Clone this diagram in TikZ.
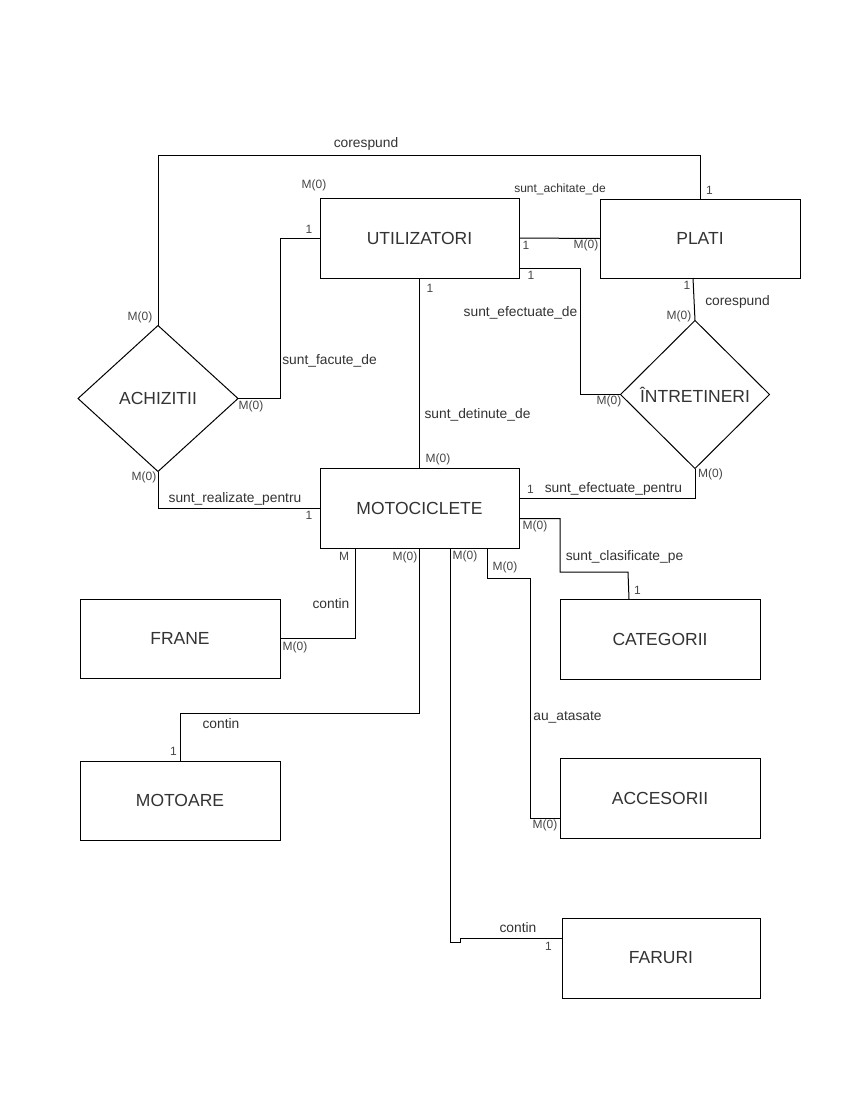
\documentclass[tikz,border=0pt]{standalone}
\usepackage{fontspec}
\setmainfont{Liberation Sans}
\usetikzlibrary{shapes.geometric}
\begin{document}
\begin{tikzpicture}[x=1pt,y=-1pt,
  ent/.style={draw=black, line width=1pt, rectangle, inner sep=0pt, outer sep=0pt,
    font=\fontsize{17.5}{20}\selectfont, text=black!80},
  rel/.style={draw=black, line width=1pt, diamond, inner sep=0pt, outer sep=0pt,
    font=\fontsize{17.5}{20}\selectfont, text=black!80},
  conn/.style={draw=black, line width=1pt},
  lab/.style={inner sep=0pt, font=\fontsize{13.8}{16}\selectfont, text=black!80},
  smalllab/.style={inner sep=0pt, font=\fontsize{12}{14}\selectfont, text=black!80},
  card/.style={inner sep=0pt, font=\fontsize{12}{14}\selectfont, text=black!72},
]
\fill[white] (0,0) rectangle (850,1100);
\useasboundingbox (0,0) rectangle (850,1100);

% entities
\node[ent, minimum width=199pt, minimum height=80pt] (util) at (419.5,238) {UTILIZATORI};
\node[ent, minimum width=200pt, minimum height=79pt] (plati) at (700,238.5) {PLATI};
\node[ent, minimum width=199pt, minimum height=80pt] (moto) at (419.5,508) {MOTOCICLETE};
\node[ent, minimum width=200pt, minimum height=79pt] (frane) at (180,638.5) {FRANE};
\node[ent, minimum width=200pt, minimum height=79pt] (motoare) at (180,800.5) {MOTOARE};
\node[ent, minimum width=200pt, minimum height=80pt] (categ) at (660,639) {CATEGORII};
\node[ent, minimum width=200pt, minimum height=80pt] (acces) at (660,798) {ACCESORII};
\node[ent, minimum width=198pt, minimum height=80pt] (faruri) at (661,958) {FARURI};

% relationships
\node[rel, minimum width=160pt, minimum height=146pt] (ach) at (158,398.5) {ACHIZITII};
\node[rel, minimum width=149pt, minimum height=148pt] (intr) at (695,394.5) {ÎNTRETINERI};

% helper coordinates
\coordinate (c1) at (158,155);
\coordinate (c2) at (280,238);
\coordinate (c4) at (580,394.5);
\coordinate (c12) at (530,578);
\coordinate (c13a) at (560,572);
\coordinate (c13b) at (628,572);

% connectors
\draw[conn] (ach.north) -- (c1) -| (plati.north);
\draw[conn] (ach.east) -| (c2) -- (util.west);
\draw[conn] (util.east) -- (plati.west);
\draw[conn] ([yshift=-30pt]util.east) -| (c4) -- (intr.west);
\draw[conn] ([xshift=-7pt]plati.south) -- (intr.north);
\draw[conn] (util.south) -- (moto.north);
\draw[conn] (intr.south) |- ([yshift=10pt]moto.east);
\draw[conn] (ach.south) |- (moto.west);
\draw[conn] ([xshift=-64.5pt]moto.south) |- (frane.east);
\draw[conn] (moto.south) -- ++(0,165) -| (motoare.north);
\draw[conn] ([xshift=31pt]moto.south) -- ++(0,394) -- ++(10,0) |- ([yshift=20pt]faruri.west);
\draw[conn] ([xshift=68pt]moto.south) |- (c12) |- ([yshift=-20pt]acces.west);
\draw[conn] ([yshift=-10.5pt]moto.east) -| (c13a) -- (c13b) -- ([xshift=-31pt]categ.north);

% relationship labels
\node[lab] (t1) at (366,144) {corespund};
\node[smalllab] (t2) at (560,189) {sunt\_achitate\_de};
\node[lab] (t3) at (329.5,361) {sunt\_facute\_de};
\node[lab] (t4) at (520.5,312.5) {sunt\_efectuate\_de};
\node[lab] (t5) at (737.5,302) {corespund};
\node[lab] (t6) at (477.5,414.5) {sunt\_detinute\_de};
\node[lab] (t7) at (613.5,488.5) {sunt\_efectuate\_pentru};
\node[lab] (t8) at (235,498.5) {sunt\_realizate\_pentru};
\node[lab] (t9) at (624.5,557) {sunt\_clasificate\_pe};
\node[lab] (t10) at (331,603.5) {contin};
\node[lab] (t11) at (221,724) {contin};
\node[lab] (t12) at (567.5,717) {au\_atasate};
\node[lab] (t13) at (518,927.5) {contin};

% cardinalities
\node[card] (m1) at (314,185) {M(0)};
\node[card] (m2) at (309,229) {1};
\node[card] (m3) at (140,317) {M(0)};
\node[card] (m4) at (251,406) {M(0)};
\node[card] (m5) at (430,288) {1};
\node[card] (m6) at (709.5,190.5) {1};
\node[card] (m7) at (526,245) {1};
\node[card] (m8) at (586,245) {M(0)};
\node[card] (m9) at (531,275.5) {1};
\node[card] (m10) at (687,285) {1};
\node[card] (m11) at (679,316.5) {M(0)};
\node[card] (m12) at (609,401.5) {M(0)};
\node[card] (m13) at (438,459) {M(0)};
\node[card] (m14) at (710.5,474) {M(0)};
\node[card] (m15) at (530.5,489.5) {1};
\node[card] (m16) at (144,477.5) {M(0)};
\node[card] (m17) at (309,515) {1};
\node[card] (m18) at (535,526) {M(0)};
\node[card] (m19) at (344,556.5) {M};
\node[card] (m20) at (405,557.5) {M(0)};
\node[card] (m21) at (465,556.5) {M(0)};
\node[card] (m22) at (505,567.5) {M(0)};
\node[card] (m23) at (295,647) {M(0)};
\node[card] (m24) at (173.5,751.5) {1};
\node[card] (m25) at (637.5,590) {1};
\node[card] (m26) at (545,825.5) {M(0)};
\node[card] (m27) at (548.5,946.5) {1};
\end{tikzpicture}
\end{document}
